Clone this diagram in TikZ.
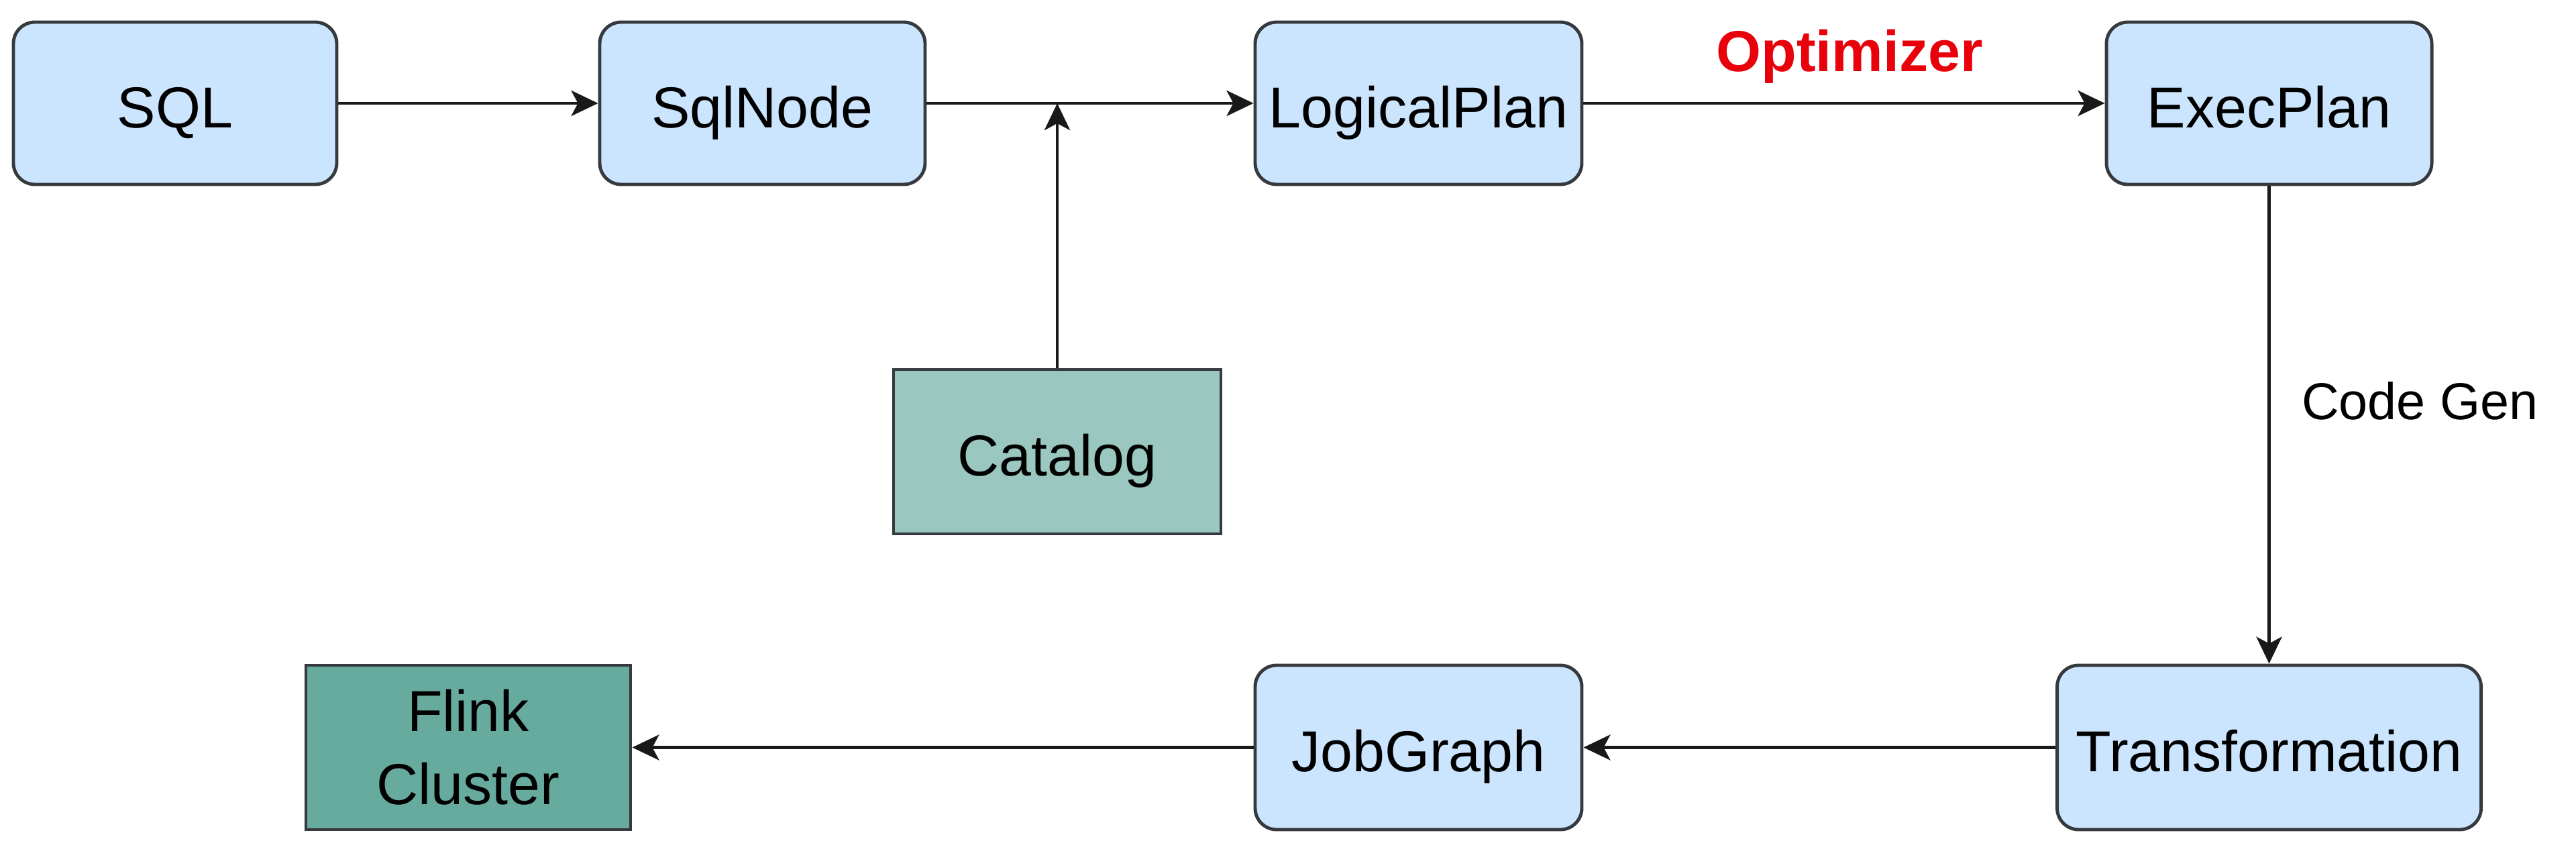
\documentclass[tikz,border=0pt]{standalone}
\usepackage{fontspec}
\setmainfont{Liberation Sans}
\usetikzlibrary{arrows.meta,positioning}
\definecolor{boxblue}{HTML}{CCE5FF}
\definecolor{catgreen}{HTML}{9AC7BF}
\definecolor{flinkgreen}{HTML}{67AB9F}
\definecolor{edgecol}{HTML}{36393D}
\definecolor{optred}{HTML}{E8000B}
\tikzset{
  base/.style={draw=edgecol, line width=1.4pt, inner sep=0pt, minimum height=2.42cm,
    font=\fontsize{24.5}{31}\selectfont, align=center, text=black},
  onel/.style={text height=20.5pt, text depth=0pt},
  roundbox/.style={base, onel, fill=boxblue, rounded corners=0.32cm},
  catbox/.style={base, onel, fill=catgreen},
  flinkbox/.style={base, fill=flinkgreen},
  arr/.style={draw=black!90, line width=1.4pt, -{Stealth[length=0.4cm,width=0.38cm,inset=0.1cm]}},
  opt/.style={text=optred, font=\fontsize{24.5}{30}\selectfont\bfseries, inner sep=0pt},
  cg/.style={font=\fontsize{22}{27}\selectfont, inner sep=0pt}
}
\begin{document}
\begin{tikzpicture}
\useasboundingbox (0,0) rectangle (38.4,-12.53);
\node[roundbox, minimum width=4.82cm] (sql) at (2.61,-1.54) {SQL};
\node[roundbox, minimum width=4.85cm] (sqlnode) at (11.365,-1.54) {SqlNode};
\node[roundbox, minimum width=4.87cm] (logical) at (21.145,-1.54) {LogicalPlan};
\node[roundbox, minimum width=4.85cm] (exec) at (33.825,-1.54) {ExecPlan};
\node[catbox, minimum width=4.88cm, minimum height=2.45cm] (catalog) at (15.76,-6.735) {Catalog};
\node[roundbox, minimum width=6.32cm, minimum height=2.45cm] (transf) at (33.825,-11.145) {Transformation};
\node[roundbox, minimum width=4.87cm, minimum height=2.45cm] (jobgraph) at (21.145,-11.145) {JobGraph};
\node[flinkbox, minimum width=4.84cm, minimum height=2.45cm] (flink) at (6.98,-11.145) {Flink\\Cluster};
\coordinate (join) at (catalog.north |- sqlnode.east);

\draw[arr] (sql) -- (sqlnode);
\draw[arr] (sqlnode) -- (logical);
\draw[arr] (catalog.north) -- (join);
\draw[arr] (logical) -- node[opt, above=0.27cm, xshift=0.08cm] {Optimizer} (exec);
\draw[arr] (exec.south) -- node[cg, pos=0.45, right=0.46cm] {Code Gen} (transf.north);
\draw[arr] (transf) -- (jobgraph);
\draw[arr] (jobgraph) -- (flink);
\end{tikzpicture}
\end{document}
